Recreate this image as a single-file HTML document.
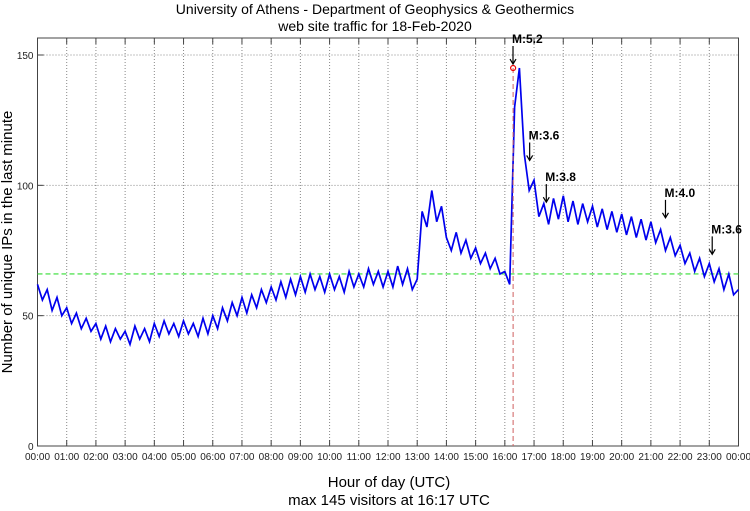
<!DOCTYPE html>
<html><head><meta charset="utf-8"><style>
body{margin:0;background:#fff;width:750px;height:511px;overflow:hidden}
svg{display:block;font-family:"Liberation Sans",sans-serif}
</style></head><body>
<svg id="c" width="750" height="511">
<text x="375" y="14" text-anchor="middle" font-size="14">University of Athens - Department of Geophysics &amp; Geothermics</text>
<text x="375" y="31" text-anchor="middle" font-size="14">web site traffic for 18-Feb-2020</text>
<text x="389" y="487" text-anchor="middle" font-size="15">Hour of day (UTC)</text>
<text x="389" y="505" text-anchor="middle" font-size="15">max 145 visitors at 16:17 UTC</text>
<text transform="translate(12,242) rotate(-90)" text-anchor="middle" font-size="15">Number of unique IPs in the last minute</text>
<g id="grid"></g><g id="axes"></g><g id="series"></g><g id="ann"></g>
</svg>
<script>
const yTicks=[0,50,100,150];
const hourLabels=["00:00","01:00","02:00","03:00","04:00","05:00","06:00","07:00","08:00","09:00","10:00","11:00","12:00","13:00","14:00","15:00","16:00","17:00","18:00","19:00","20:00","21:00","22:00","23:00","00:00"];
const visitors=[62,56,60,52,57,50, 53,47,51,45,49,44, 47,41,46,40,45,41, 44,39,46,41,45,40,
47,42,48,43,47,42, 48,43,47,42,49,43, 50,45,53,48,55,50, 57,51,58,53,60,55,
61,56,63,57,64,58, 65,59,66,60,65,59, 66,60,65,59,67,61, 66,61,68,62,67,61,
67,61,69,62,68,60, 64,90,84,98,86,92, 80,75,82,74,79,72, 76,70,74,68,72,66,
67,62,130,145,112,98, 102,88,93,85,95,87, 96,86,94,85,93,86, 92,84,91,83,90,82,
89,81,88,80,87,79, 86,78,83,75,80,73, 77,70,74,67,72,65, 70,63,68,60,66,58, 60];
const stepMinutes=10;
const meanLevel=66;
const peakHour=16+17/60, peakValue=145;
const quakeLabels=["M:5.2","M:3.6","M:3.8","M:4.0","M:3.6"];
const quakeHours=[16.28,16.85,17.42,21.5,23.1];
const quakeLevels=[145,108,92,86,72];

const L=37.5,R=738.5,T=38,B=446,YMAX=150;
const x=h=>L+(R-L)*h/24;
const y=v=>B-(B-55)*v/YMAX;
const NS="http://www.w3.org/2000/svg";
function mk(tag,attrs,parent,txt){const e=document.createElementNS(NS,tag);for(const k in attrs)e.setAttribute(k,attrs[k]);if(txt!=null)e.textContent=txt;document.getElementById(parent).appendChild(e);return e;}
hourLabels.forEach((lab,i)=>{
 if(i>0&&i<24){const g=mk('line',{x1:x(i),x2:x(i),y1:T,y2:B,stroke:'#888','stroke-dasharray':'1,2','stroke-width':1},'grid');
 
 }
 const t=mk('line',{x1:x(i),x2:x(i),y1:B,y2:B-6,stroke:'#444'},'axes');
 
 
 const tt=mk('line',{x1:x(i),x2:x(i),y1:T,y2:T+6,stroke:'#444'},'axes');
 
 
 const tl=mk('text',{x:x(i),y:B+14,'font-size':10,'text-anchor':'middle',fill:'#222'},'axes',lab);
 
 
});
yTicks.forEach(v=>{
 if(v>0){const g=mk('line',{x1:L,x2:R,y1:y(v),y2:y(v),stroke:'#888','stroke-dasharray':'1,2'},'grid');
 
 }
 const t=mk('line',{x1:L,x2:L+6,y1:y(v),y2:y(v),stroke:'#444'},'axes');
 
 
 const tl=mk('text',{x:L-4,y:y(v)+4,'font-size':10,'text-anchor':'end',fill:'#222'},'axes',String(v));
 
 
});
const fr=mk('rect',{x:L,y:T,width:R-L,height:B-T,fill:'none',stroke:'#444','stroke-width':1},'axes');


const ml=mk('line',{x1:L,x2:R,y1:y(meanLevel),y2:y(meanLevel),stroke:'#33dd33','stroke-dasharray':'5,3','stroke-width':1.2},'series');


const pts=visitors.map((v,i)=>x(i*stepMinutes/60).toFixed(1)+','+y(v).toFixed(1)).join(' ');
const pl=mk('polyline',{points:pts,fill:'none',stroke:'#0000ee','stroke-width':1.7},'series');


const pv=mk('line',{x1:x(peakHour),x2:x(peakHour),y1:y(peakValue),y2:B,stroke:'#d06060','stroke-dasharray':'5,3'},'series');


const pc=mk('circle',{cx:x(peakHour),cy:y(peakValue),r:2.5,fill:'none',stroke:'#e00','stroke-width':1.2},'series');


quakeLabels.forEach((lab,i)=>{
 const ax=x(quakeHours[i]),ay=y(quakeLevels[i])-4;
 const a=mk('path',{d:`M${ax},${ay-18}L${ax},${ay}M${ax-3},${ay-5}L${ax},${ay}L${ax+3},${ay-5}`,stroke:'#000',fill:'none','stroke-width':1.2},'ann');
 
 
 const t=mk('text',{x:ax-1,y:ay-21,'font-size':12,'font-weight':'bold'},'ann',lab);
 
 
});
</script>
</body></html>
